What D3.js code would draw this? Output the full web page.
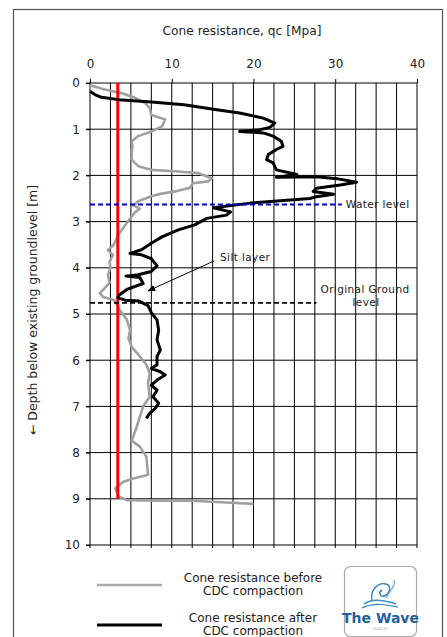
<!DOCTYPE html>
<html><head><meta charset="utf-8">
<script src="https://cdn.jsdelivr.net/npm/d3@7/dist/d3.min.js"></script>
<style>body{margin:0;background:#fff}svg{display:block}text{font-family:"DejaVu Sans",Verdana,sans-serif}</style>
</head><body><svg id="c" width="447" height="637"></svg>
<script>
// ---- data ----
const xTicks = [0, 10, 20, 30, 40];
const yTicks = [0, 1, 2, 3, 4, 5, 6, 7, 8, 9, 10];
const beforeQc = [0,1.8,3.9,5.5,6.7,7.3,7.5,9.2,8.8,7.5,5.9,5.1,5.2,5.1,5.1,5.9,7.5,10.4,13.2,14.9,14.5,12.6,12.2,10.6,8.6,7.5,5.9,5.3,6.1,5.5,5.1,4.3,3.5,2.9,2.2,2.8,2.4,2.5,2.2,2.4,1.8,1.2,1.6,3.0,3.5,4.5,4.9,4.7,5.1,6.1,6.9,7.3,7.1,7.3,6.5,6.1,5.7,5.1,6.1,6.9,7.1,5.3,4.1,3.1,3.5,4.5,8.6,12.2,14.3,16.7,20.0];
const beforeDepth = [0.05,0.14,0.22,0.32,0.43,0.54,0.69,0.79,0.94,1.05,1.15,1.26,1.37,1.48,1.66,1.80,1.88,1.91,1.95,2.06,2.13,2.17,2.27,2.34,2.40,2.45,2.56,2.65,2.72,2.80,2.89,3.08,3.28,3.50,3.62,3.72,3.87,4.0,4.16,4.32,4.44,4.55,4.63,4.70,4.88,5.12,5.35,5.53,5.71,5.92,6.10,6.28,6.5,6.79,7.0,7.22,7.45,7.74,7.87,8.09,8.48,8.56,8.63,8.77,8.95,9.03,9.04,9.04,9.06,9.08,9.11];
const afterQc = [0,0.6,1.4,3.5,7.5,11.5,15.5,18.3,21.2,22.6,22.0,20.8,18.3,21.2,22.4,23.4,23.6,22.8,21.8,21.6,22.4,22.8,25.3,22.8,27.7,30.2,32.6,30.6,27.7,27.3,29.8,27.7,26.9,19.6,15.1,17.2,16.7,14.3,12.8,10.8,8.8,7.5,6.3,4.9,6.3,7.5,8.2,7.5,5.9,4.4,6.1,6.5,4.6,3.5,3.4,4.3,6.0,7.1,7.5,8.2,8.4,8.2,8.6,8.2,8.2,7.5,8.6,9.2,8.2,7.5,8.2,7.7,8.4,8.0,7.3,6.9];
const afterDepth = [0.18,0.25,0.31,0.36,0.41,0.47,0.58,0.65,0.76,0.87,0.96,1.01,1.05,1.08,1.15,1.26,1.37,1.44,1.55,1.66,1.73,1.88,1.98,2.04,2.03,2.07,2.15,2.21,2.28,2.35,2.41,2.46,2.50,2.60,2.70,2.79,2.86,2.93,3.07,3.18,3.33,3.47,3.61,3.69,3.72,3.80,3.96,4.08,4.15,4.18,4.21,4.34,4.46,4.60,4.65,4.70,4.72,4.82,4.97,5.13,5.35,5.56,5.78,5.92,6.10,6.18,6.25,6.32,6.43,6.54,6.65,6.79,6.93,7.04,7.15,7.26];
const limitQc = 3.4, limitDepth = [0, 9];
const waterLevel = 2.63, waterEndQc = 30.8;
const groundLevel = 4.76, groundEndQc = 27.7;
const siltArrowFrom = [15.2, 3.85], siltArrowTo = [7.1, 4.5];
const labels = {title: "Cone resistance, qc [Mpa]", yTitle: "\u2190  Depth below existing groundlevel  [m]",
  water: "Water level", silt: "Silt layer", ground1: "Original Ground", ground2: "level",
  before: ["Cone resistance before", "CDC compaction"], after: ["Cone resistance after", "CDC compaction"]};

// ---- drawing ----
const svg = d3.select("#c");
const x = d3.scaleLinear().domain([0, 40]).range([90, 417]);
const y = d3.scaleLinear().domain([0, 10]).range([83, 545]);
const TXT = "#222";

svg.append("rect").attr("x", 13.5).attr("y", 9.5).attr("width", 429).attr("height", 640)
  .attr("fill", "#fff").attr("stroke", "#555").attr("stroke-width", 1.2);

svg.append("text").attr("x", 242).attr("y", 35).attr("text-anchor", "middle")
  .attr("font-size", 12.2).attr("fill", TXT).text(labels.title);

const g = svg.append("g");
g.selectAll("line.v").data(d3.range(0, 40.01, 2.5)).join("line")
  .attr("x1", d => x(d)).attr("x2", d => x(d)).attr("y1", y(0)).attr("y2", y(10) + 3)
  .attr("stroke", "#000").attr("stroke-width", 1);
g.selectAll("line.h").data(yTicks).join("line")
  .attr("x1", x(0) - 4).attr("x2", x(40)).attr("y1", d => y(d)).attr("y2", d => y(d))
  .attr("stroke", "#000").attr("stroke-width", 1);

const xAxis = d3.axisTop(x).tickValues(xTicks).tickSize(4).tickPadding(11);
const ax = svg.append("g").attr("transform", `translate(0,${y(0)})`).call(xAxis);
ax.select(".domain").remove();
ax.selectAll("text").attr("font-size", 12).attr("font-family", "DejaVu Sans").attr("fill", TXT);
const yAxis = d3.axisLeft(y).tickValues(yTicks).tickSize(4).tickPadding(6);
const ay = svg.append("g").attr("transform", `translate(${x(0)},0)`).call(yAxis);
ay.select(".domain").remove();
ay.selectAll("text").attr("font-size", 12).attr("font-family", "DejaVu Sans").attr("fill", TXT);

svg.append("text").attr("transform", "translate(37,310) rotate(-90)").attr("text-anchor", "middle")
  .attr("font-size", 12.5).attr("fill", TXT).text(labels.yTitle);

const line = d3.line().x(d => x(d[0])).y(d => y(d[1]));
const before = beforeQc.map((v, i) => [v, beforeDepth[i]]);
const after = afterQc.map((v, i) => [v, afterDepth[i]]);

svg.append("path").attr("d", line(before)).attr("fill", "none").attr("stroke", "#a0a0a0")
  .attr("stroke-width", 2.6).attr("stroke-linejoin", "round");

svg.append("line").attr("x1", x(limitQc)).attr("x2", x(limitQc)).attr("y1", y(limitDepth[0])).attr("y2", y(limitDepth[1]))
  .attr("stroke", "#ff0000").attr("stroke-width", 3);

svg.append("path").attr("d", line(after)).attr("fill", "none").attr("stroke", "#000")
  .attr("stroke-width", 3).attr("stroke-linejoin", "round");

svg.append("line").attr("x1", x(0)).attr("x2", x(waterEndQc)).attr("y1", y(waterLevel)).attr("y2", y(waterLevel))
  .attr("stroke", "#0000c8").attr("stroke-width", 2).attr("stroke-dasharray", "5,3");
svg.append("text").attr("x", x(waterEndQc) + 4).attr("y", y(waterLevel) + 3).attr("font-size", 10.5)
  .attr("fill", TXT).attr("letter-spacing", 0.4).text(labels.water);

svg.append("line").attr("x1", x(0)).attr("x2", x(groundEndQc)).attr("y1", y(groundLevel)).attr("y2", y(groundLevel))
  .attr("stroke", "#000").attr("stroke-width", 1.6).attr("stroke-dasharray", "5,3");
svg.append("text").attr("x", 365).attr("y", y(groundLevel) - 10).attr("text-anchor", "middle").attr("font-size", 10.5)
  .attr("fill", TXT).attr("letter-spacing", 0.4).text(labels.ground1);
svg.append("text").attr("x", 366).attr("y", y(groundLevel) + 3).attr("text-anchor", "middle").attr("font-size", 10.5)
  .attr("fill", TXT).attr("letter-spacing", 0.4).text(labels.ground2);

svg.append("defs").append("marker").attr("id", "ah").attr("viewBox", "0 0 10 10").attr("refX", 9).attr("refY", 5)
  .attr("markerWidth", 8).attr("markerHeight", 8).attr("orient", "auto")
  .append("path").attr("d", "M0,1L10,5L0,9Z").attr("fill", "#000");
svg.append("line").attr("x1", x(siltArrowFrom[0])).attr("y1", y(siltArrowFrom[1]))
  .attr("x2", x(siltArrowTo[0])).attr("y2", y(siltArrowTo[1])).attr("stroke", "#000").attr("stroke-width", 1)
  .attr("marker-end", "url(#ah)");
svg.append("text").attr("x", 220).attr("y", 261).attr("font-size", 10.5).attr("fill", TXT)
  .attr("letter-spacing", 0.4).text(labels.silt);

const leg = svg.append("g");
leg.append("line").attr("x1", 97).attr("x2", 162).attr("y1", 585).attr("y2", 585).attr("stroke", "#a8a8a8").attr("stroke-width", 2.6);
leg.append("line").attr("x1", 97).attr("x2", 162).attr("y1", 625).attr("y2", 625).attr("stroke", "#000").attr("stroke-width", 3);
labels.before.forEach((t, i) => leg.append("text").attr("x", 253).attr("y", 582 + i * 13).attr("text-anchor", "middle")
  .attr("font-size", 12).attr("fill", TXT).text(t));
labels.after.forEach((t, i) => leg.append("text").attr("x", 253).attr("y", 622 + i * 13).attr("text-anchor", "middle")
  .attr("font-size", 12).attr("fill", TXT).text(t));

const lg = svg.append("g");
lg.append("rect").attr("x", 344.5).attr("y", 566.5).attr("width", 72).attr("height", 70).attr("rx", 6)
  .attr("fill", "#fff").attr("stroke", "#a8a8a8").attr("stroke-width", 1.2);
lg.append("path").attr("d", "M364,604 C372,598 384,600 396,604").attr("fill", "none").attr("stroke", "#3a8fc8").attr("stroke-width", 1.6);
lg.append("path").attr("d", "M362,608 C374,602 388,605 398,607").attr("fill", "none").attr("stroke", "#2f7fbf").attr("stroke-width", 1.2);
lg.append("path").attr("d", "M372,600 C370,590 378,582 386,584 C392,586 390,594 384,596 C380,597 378,592 382,590")
  .attr("fill", "none").attr("stroke", "#2f7fbf").attr("stroke-width", 1.4);
lg.append("path").attr("d", "M386,598 C390,590 396,586 394,580").attr("fill", "none").attr("stroke", "#5aa7d8").attr("stroke-width", 1.2);
lg.append("text").attr("x", 380.5).attr("y", 623).attr("text-anchor", "middle").attr("font-family", "Liberation Serif")
  .attr("font-size", 14).attr("font-weight", "bold").attr("fill", "#1f5f9e").text("The Wave");
lg.append("text").attr("x", 380.5).attr("y", 630).attr("text-anchor", "middle").attr("font-size", 3.5).attr("fill", "#7aa8c8").text("MUSCAT");
</script></body></html>
